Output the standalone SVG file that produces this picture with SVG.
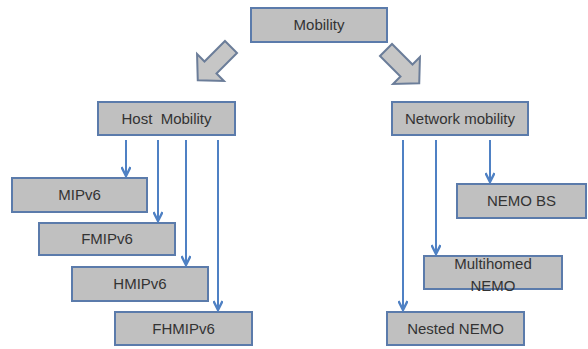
<svg xmlns="http://www.w3.org/2000/svg" width="588" height="349" viewBox="0 0 588 349">
  <style>
    .box { fill: #c0c0c0; stroke: #5b7bab; stroke-width: 2; }
    .big { fill: #c6c6c6; stroke: #6b7d99; stroke-width: 2; stroke-linejoin: miter; }
    .lbl { font-family: "Liberation Sans", Arial, sans-serif; font-size: 15px; fill: #333333; text-anchor: middle; }
    .con { stroke: #4f81c4; stroke-width: 2; fill: none; }
  </style>
  <defs>
    <marker id="tip" viewBox="0 0 12 10" refX="10" refY="5" markerWidth="6" markerHeight="5" orient="auto" markerUnits="strokeWidth">
      <path d="M1,0.5 L10,5 L1,9.5" fill="none" stroke="#4f81c4" stroke-width="2.4"/>
    </marker>
    <!-- block arrow pointing along +y, origin at the middle of the tail -->
    <path id="blockArrow" d="M-8.5,0 L8.5,0 L8.5,29 L19,29 L0,47 L-19,29 L-8.5,29 Z"/>
  </defs>

  <!-- root -->
  <g id="mobility">
    <rect class="box" x="251" y="8" width="136" height="34"/>
    <text class="lbl" x="319" y="30">Mobility</text>
  </g>

  <!-- branch arrows from the root -->
  <g id="branch-arrows">
    <use href="#blockArrow" class="big" transform="translate(231,47) rotate(45)"/>
    <use href="#blockArrow" class="big" transform="translate(386,50) rotate(-45)"/>
  </g>

  <g id="host-mobility">
    <rect class="box" x="98" y="102" width="137" height="33"/>
    <text class="lbl" x="166.5" y="124" style="white-space:pre">Host  Mobility</text>
  </g>

  <g id="network-mobility">
    <rect class="box" x="392" y="102" width="136" height="33"/>
    <text class="lbl" x="460" y="124">Network mobility</text>
  </g>

  <g id="mipv6">
    <rect class="box" x="12" y="178" width="135" height="34"/>
    <text class="lbl" x="79.5" y="200">MIPv6</text>
  </g>
  <g id="fmipv6">
    <rect class="box" x="39" y="223" width="136" height="32"/>
    <text class="lbl" x="107" y="244">FMIPv6</text>
  </g>
  <g id="hmipv6">
    <rect class="box" x="72" y="267" width="136" height="34"/>
    <text class="lbl" x="140" y="289">HMIPv6</text>
  </g>
  <g id="fhmipv6">
    <rect class="box" x="115" y="312" width="137" height="33"/>
    <text class="lbl" x="183.5" y="334">FHMIPv6</text>
  </g>

  <g id="nemo-bs">
    <rect class="box" x="457" y="184" width="129" height="34"/>
    <text class="lbl" x="521.5" y="206">NEMO BS</text>
  </g>
  <g id="multihomed-nemo">
    <rect class="box" x="424" y="256" width="138" height="33"/>
    <text class="lbl" x="493" y="269">Multihomed</text>
    <text class="lbl" x="493" y="291">NEMO</text>
  </g>
  <g id="nested-nemo">
    <rect class="box" x="387" y="312" width="137" height="33"/>
    <text class="lbl" x="455.5" y="334">Nested NEMO</text>
  </g>

  <!-- connectors -->
  <g id="connectors">
    <line class="con" x1="126" y1="140" x2="126" y2="176" marker-end="url(#tip)"/>
    <line class="con" x1="158" y1="140" x2="158" y2="221" marker-end="url(#tip)"/>
    <line class="con" x1="186" y1="140" x2="186" y2="265" marker-end="url(#tip)"/>
    <line class="con" x1="218" y1="140" x2="218" y2="310" marker-end="url(#tip)"/>
    <line class="con" x1="403" y1="140" x2="403" y2="310" marker-end="url(#tip)"/>
    <line class="con" x1="436" y1="140" x2="436" y2="254" marker-end="url(#tip)"/>
    <line class="con" x1="490" y1="140" x2="490" y2="182" marker-end="url(#tip)"/>
  </g>
</svg>
